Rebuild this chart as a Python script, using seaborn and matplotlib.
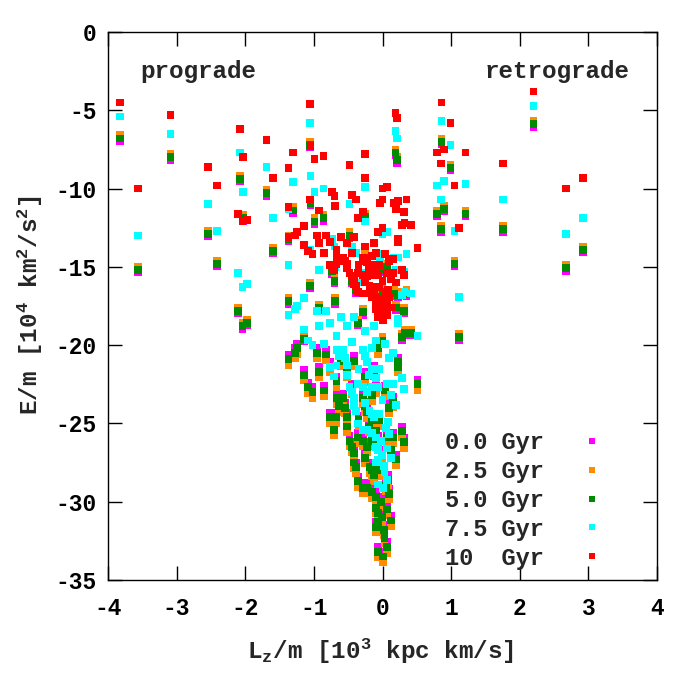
import matplotlib
matplotlib.use('agg')
import matplotlib.pyplot as plt
import seaborn as sns
import pandas as pd

# angular momentum (same for every snapshot) and energy at each epoch
lz = [-3.83, -3.56, -3.09, -2.54, -2.41, -2.08, -2.03, -2.10, -2.04, -1.97,
      -1.69, -1.59, -1.31, -1.37, -1.37, -1.37, -1.06, -1.05, -0.99, -0.86,
      -1.06, -0.93, -0.73, -0.70, -0.69, -0.48, -0.45, -0.38, -0.29, -0.36,
      -0.26, -0.25, 0.00, 0.19, 0.21, 0.17, 0.20, 2.20, 0.86, 0.99,
      0.79, 0.89, 1.21, 0.85, 1.76, 2.92, 2.68, 1.05, 1.12, 0.51,
      0.07, -0.04, 0.00, 0.23, 0.35, 0.31, -1.15, -1.24, -1.27, -0.95,
      -0.82, -1.14, -1.09, -1.02, -0.92, -0.85, -0.77, -0.52, -0.67, -0.67,
      -0.63, -0.58, -0.67, -0.77, -0.71, -0.52, -0.52, -0.48, -0.44, -0.41,
      -0.41, -0.38, -0.29, -0.26, -0.23, -0.36, -0.29, -0.23, -0.09, 0.04,
      0.23, 0.23, 0.29, 0.31, 0.15, 0.06, -0.16, -0.07, -0.19, -0.15,
      0.20, -0.36, -0.29, -0.22, -0.15, -0.09, 0.10, -0.09, -0.07, -0.01,
      -0.07, 0.06, 0.13, -0.10, 0.03, 0.06, -0.07, 0.01, -0.07, 0.00,
      0.32, 0.42, 0.29, -0.42, -0.25, -0.13, -0.15, -0.20, -0.05, 0.10,
      -0.25, -0.12, 0.08, 0.12, -0.55, -0.35, -0.10, 0.00, -0.05, 0.05,
      -0.02, 0.02, -0.45, -0.15, 0.15, -0.60]

e_00 = [-6.95, -15.35, -8.15, -13.05, -14.95, -9.55, -12.05, -17.95, -18.95, -18.75,
        -10.45, -14.15, -11.55, -13.35, -17.35, -20.6, -7.35, -11.05, -12.25, -12.05,
        -16.35, -17.75, -15.45, -16.05, -17.35, -13.15, -16.05, -16.65, -18.05, -18.75,
        -11.95, -14.55, -15.35, -7.85, -8.35, -16.85, -17.75, -6.05, -7.15, -8.85,
        -11.75, -11.45, -11.75, -12.75, -12.75, -14.05, -15.25, -14.95, -19.65, -22.2,
        -15.15, -17.05, -16.75, -16.95, -16.85, -17.95, -19.75, -19.9, -20.2, -20.2,
        -20.3, -21.6, -22.4, -22.7, -21.4, -22.6, -21.1, -21.4, -22.0, -23.1,
        -23.6, -23.1, -24.3, -24.3, -25.1, -24.3, -24.9, -25.8, -26.2, -26.6,
        -27.2, -27.5, -23.1, -23.6, -24.0, -25.6, -25.8, -26.2, -22.4, -22.6,
        -20.8, -21.1, -25.2, -25.9, -25.6, -25.6, -25.8, -25.8, -27.5, -27.7,
        -27.0, -28.4, -28.8, -28.8, -29.1, -29.4, -29.2, -30.1, -30.4, -30.7,
        -31.0, -30.2, -30.9, -31.3, -32.0, -32.6, -32.9, -33.2, -19.9, -19.85,
        -19.35, -19.35, -19.65, -20.7, -21.7, -21.3, -24.5, -24.9, -24.5, -23.7,
        -26.9, -28.0, -28.3, -26.4, -23.7, -24.5, -25.2, -26.7, -27.7, -28.7,
        -29.7, -31.5, -22.5, -22.9, -23.3, -20.7]

e_25 = [-6.6, -15.0, -7.8, -12.7, -14.6, -9.2, -11.7, -17.6, -18.6, -18.4,
        -10.1, -13.8, -11.2, -13.0, -17.0, -21.25, -7.0, -10.7, -11.9, -11.7,
        -16.0, -17.4, -15.1, -15.7, -17.0, -12.8, -15.7, -16.3, -17.7, -18.4,
        -11.6, -14.2, -15.0, -7.5, -8.0, -16.5, -17.4, -5.7, -6.8, -8.5,
        -11.4, -11.1, -11.4, -12.4, -12.4, -13.7, -14.9, -14.6, -19.3, -22.85,
        -14.8, -16.7, -16.4, -16.6, -16.5, -17.6, -19.4, -20.55, -20.85, -20.85,
        -20.95, -22.25, -23.05, -23.35, -22.05, -23.25, -21.75, -22.05, -22.65, -23.75,
        -24.25, -23.75, -24.95, -24.95, -25.75, -24.95, -25.55, -26.45, -26.85, -27.25,
        -27.85, -28.15, -23.75, -24.25, -24.65, -26.25, -26.45, -26.85, -23.05, -23.25,
        -21.45, -21.75, -25.85, -26.55, -26.25, -26.25, -26.45, -26.45, -28.15, -28.35,
        -27.65, -29.05, -29.45, -29.45, -29.75, -30.05, -29.85, -30.75, -31.05, -31.35,
        -31.65, -30.85, -31.55, -31.95, -32.65, -33.25, -33.55, -33.85, -20.55, -19.5,
        -19.0, -19.0, -19.3, -21.35, -22.35, -21.95, -25.15, -25.55, -25.15, -24.35,
        -27.55, -28.65, -28.95, -27.05, -24.35, -25.15, -25.85, -27.35, -28.35, -29.35,
        -30.35, -32.15, -23.15, -23.55, -23.95, -21.35]

e_50 = [-6.8, -15.2, -8.0, -12.9, -14.8, -9.4, -11.9, -17.8, -18.8, -18.6,
        -10.3, -14.0, -11.4, -13.2, -17.2, -20.9, -7.2, -10.9, -12.1, -11.9,
        -16.2, -17.6, -15.3, -15.9, -17.2, -13.0, -15.9, -16.5, -17.9, -18.6,
        -11.8, -14.4, -15.2, -7.7, -8.2, -16.7, -17.6, -5.9, -7.0, -8.7,
        -11.6, -11.3, -11.6, -12.6, -12.6, -13.9, -15.1, -14.8, -19.5, -22.5,
        -15.0, -16.9, -16.6, -16.8, -16.7, -17.8, -19.6, -20.2, -20.5, -20.5,
        -20.6, -21.9, -22.7, -23.0, -21.7, -22.9, -21.4, -21.7, -22.3, -23.4,
        -23.9, -23.4, -24.6, -24.6, -25.4, -24.6, -25.2, -26.1, -26.5, -26.9,
        -27.5, -27.8, -23.4, -23.9, -24.3, -25.9, -26.1, -26.5, -22.7, -22.9,
        -21.1, -21.4, -25.5, -26.2, -25.9, -25.9, -26.1, -26.1, -27.8, -28.0,
        -27.3, -28.7, -29.1, -29.1, -29.4, -29.7, -29.5, -30.4, -30.7, -31.0,
        -31.3, -30.5, -31.2, -31.6, -32.3, -32.9, -33.2, -33.5, -20.2, -19.7,
        -19.2, -19.2, -19.5, -21.0, -22.0, -21.6, -24.8, -25.2, -24.8, -24.0,
        -27.2, -28.3, -28.6, -26.7, -24.0, -24.8, -25.5, -27.0, -28.0, -29.0,
        -30.0, -31.8, -22.8, -23.2, -23.6, -21.0]

e_75 = [-5.4, -13.0, -6.5, -11.0, -12.7, -7.7, -10.2, -15.4, -16.3, -16.1,
        -8.6, -11.9, -9.6, -11.3, -14.9, -18.1, -5.8, -9.2, -10.2, -10.0,
        -13.9, -15.2, -13.2, -13.7, -15.0, -11.0, -13.7, -14.1, -15.4, -16.0,
        -9.9, -12.1, -12.9, -6.3, -6.8, -14.4, -15.2, -4.7, -5.7, -7.2,
        -9.8, -9.5, -9.7, -10.7, -10.7, -11.9, -12.9, -12.7, -16.9, -19.4,
        -12.8, -14.5, -14.2, -14.4, -14.2, -15.3, -17.0, -17.5, -17.7, -17.8,
        -17.8, -19.0, -19.7, -20.0, -18.8, -19.9, -18.6, -18.8, -19.4, -20.3,
        -20.7, -20.3, -21.3, -21.4, -22.0, -21.3, -21.9, -22.7, -23.0, -23.4,
        -23.9, -24.2, -20.3, -20.7, -21.1, -22.5, -22.7, -23.0, -19.7, -19.9,
        -18.3, -18.6, -22.1, -22.8, -22.5, -22.5, -22.7, -22.7, -24.2, -24.4,
        -23.8, -25.0, -25.4, -25.4, -25.6, -25.9, -25.7, -26.5, -26.7, -27.0,
        -27.3, -26.6, -27.2, -27.5, -28.1, -28.6, -28.9, -29.1, -17.5, -17.1,
        -16.6, -16.7, -16.8, -18.2, -19.1, -18.8, -21.5, -21.9, -21.5, -20.8,
        -23.7, -24.6, -24.9, -23.2, -20.8, -21.5, -22.1, -23.5, -24.4, -25.3,
        -26.1, -27.7, -19.8, -20.2, -20.5, -18.2]

e_10 = [-4.5, -10.0, -5.3, -8.6, -9.8, -6.2, -8.0, -11.6, -12.1, -12.0,
        -6.9, -9.3, -7.7, -8.7, -11.2, -13.1, -4.6, -7.3, -8.1, -7.9,
        -10.7, -11.4, -10.2, -10.5, -11.1, -8.5, -10.4, -10.7, -11.5, -11.9,
        -7.8, -9.3, -10.0, -5.2, -5.5, -10.9, -11.3, -3.8, -4.5, -5.8,
        -7.7, -7.5, -7.7, -8.4, -8.4, -9.3, -10.0, -9.8, -12.5, -13.8,
        -9.9, -10.9, -10.7, -10.8, -10.7, -11.5, -12.4, -12.8, -13.0, -13.0,
        -13.0, -13.6, -14.0, -14.2, -13.5, -14.1, -13.4, -13.5, -13.9, -14.4,
        -14.6, -14.4, -14.8, -14.9, -15.2, -14.8, -15.1, -15.4, -15.6, -15.8,
        -16.1, -16.2, -14.4, -14.6, -14.7, -15.4, -15.5, -15.6, -14.1, -14.2,
        -13.2, -13.4, -15.2, -15.5, -15.4, -15.4, -15.5, -15.5, -16.2, -16.3,
        -16.0, -16.6, -16.7, -16.7, -16.9, -17.0, -16.9, -17.3, -17.4, -17.5,
        -17.6, -17.3, -17.6, -17.7, -17.9, -18.1, -18.2, -18.4, -12.8, -12.5,
        -12.2, -12.3, -12.3, -13.1, -13.7, -13.5, -14.9, -15.1, -14.9, -14.6,
        -16.0, -16.4, -16.5, -15.8, -14.6, -14.9, -15.2, -15.9, -16.3, -16.7,
        -17.1, -17.8, -14.1, -14.3, -14.5, -13.1]

epochs = ['0.0 Gyr', '2.5 Gyr', '5.0 Gyr', '7.5 Gyr', '10  Gyr']
colors = ['#ff00ff', '#ff8c00', '#008b00', '#00ffff', '#ff0000']

sns.set_style('ticks')
plt.rcParams['font.family'] = ['Liberation Mono', 'DejaVu Sans Mono']
plt.rcParams['font.weight'] = 'bold'
plt.rcParams['axes.unicode_minus'] = False
plt.rcParams['mathtext.default'] = 'regular'

frames = []
for e, lab in zip([e_00, e_25, e_50, e_75, e_10], epochs):
    frames.append(pd.DataFrame({'lz': lz, 'E': e, 'epoch': lab}))
df = pd.concat(frames, ignore_index=True)

fig = plt.figure(figsize=(7, 7), dpi=100)
ax = fig.add_axes([108/700, 120/700, 549/700, 548/700])

sns.scatterplot(data=df, x='lz', y='E', hue='epoch', hue_order=epochs,
                palette=colors, marker='s', s=32, linewidth=0, ax=ax)

ax.set_xlim(-4, 4)
ax.set_ylim(-35, 0)
ax.set_xticks(range(-4, 5))
ax.set_yticks(range(-35, 1, 5))
ax.tick_params(direction='in', top=True, right=True, length=10, width=1,
               labelsize=16.5, colors='black')
ax.tick_params(axis='x', pad=12)
ax.tick_params(axis='y', pad=8)
for sp in ax.spines.values():
    sp.set_visible(True)
    sp.set_linewidth(1)
    sp.set_color('black')

ax.set_xlabel(r'L$_{z}$/m [10$^{3}$ kpc km/s]', fontsize=17.5, fontweight='bold')
ax.set_ylabel(r'E/m [10$^{4}$ km$^{2}$/s$^{2}$]', fontsize=17.5, fontweight='bold')
ax.xaxis.label.set_va('center')
ax.yaxis.label.set_va('center')
ax.xaxis.set_label_coords(0.497, -0.131)
ax.yaxis.set_label_coords(-0.142, 0.502)

ax.text(-2.68, -2.55, 'prograde', fontsize=17.5, fontweight='bold', ha='center', va='center')
ax.text(2.54, -2.55, 'retrograde', fontsize=17.5, fontweight='bold', ha='center', va='center')

sns.move_legend(ax, 'lower left', bbox_to_anchor=(0.614, 0.019), frameon=False,
                title=None, markerfirst=False, handlelength=0.8, handletextpad=1.65,
                labelspacing=0.25, borderpad=0, borderaxespad=0, fontsize=17,
                markerscale=0.8)

fig.savefig('out.png', dpi=100)
